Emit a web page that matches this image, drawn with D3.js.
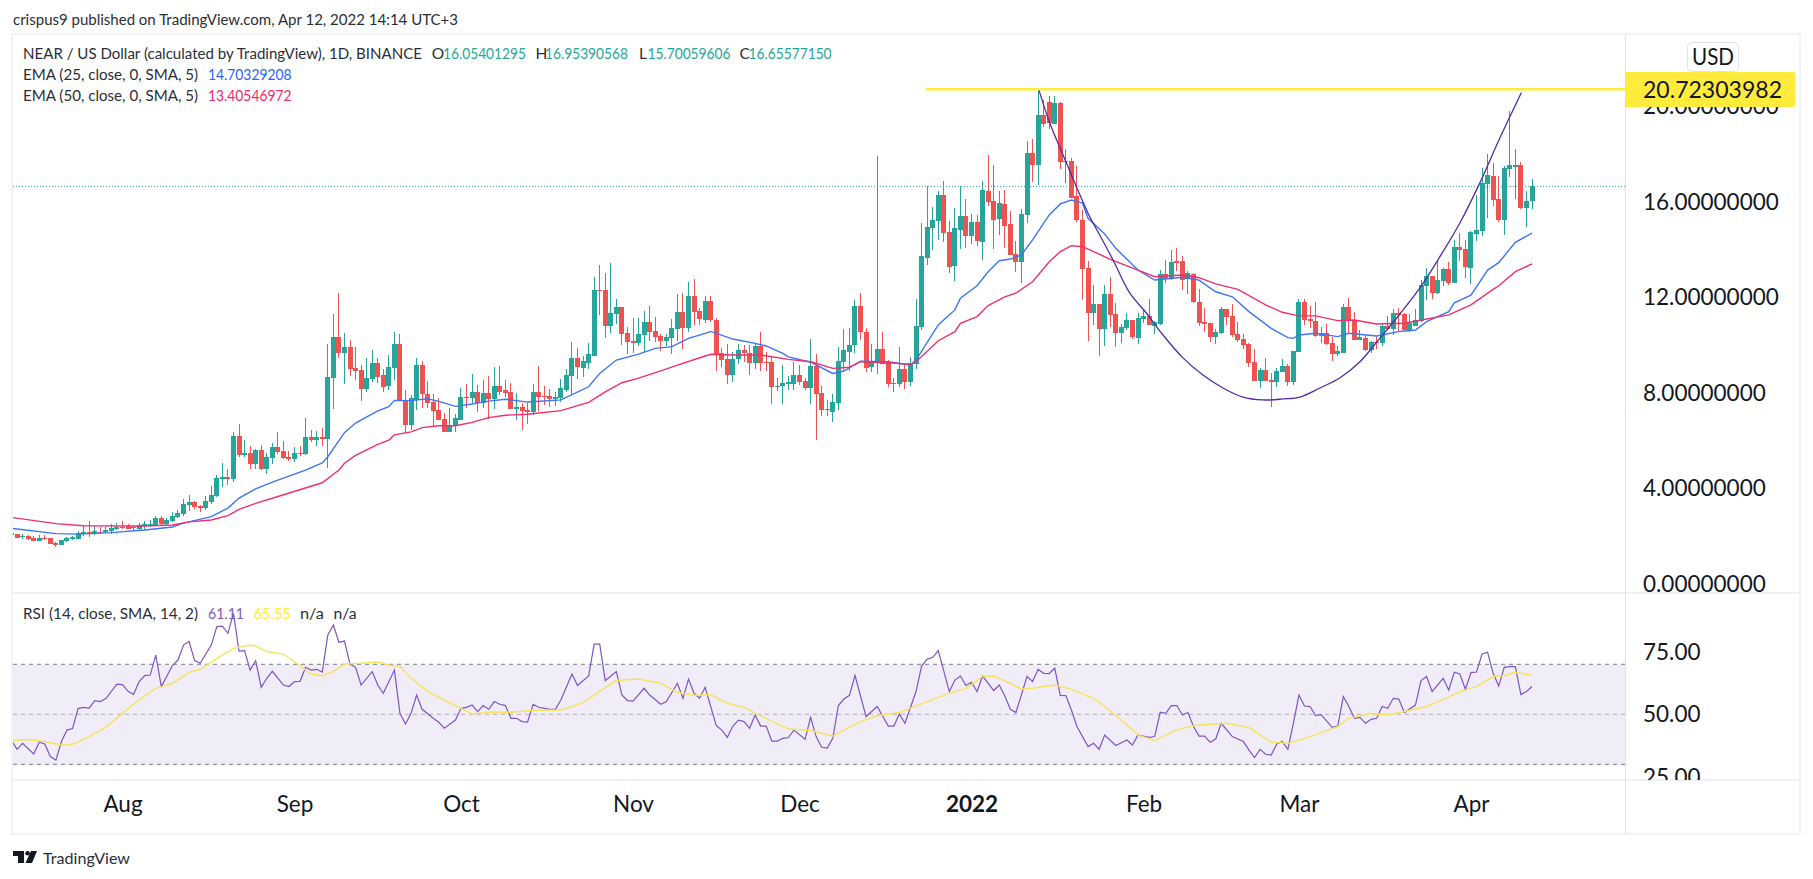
<!DOCTYPE html>
<html><head><meta charset="utf-8">
<script src="https://cdnjs.cloudflare.com/ajax/libs/d3/7.8.5/d3.min.js"></script>
<style>html,body{margin:0;padding:0;background:#fff;overflow:hidden}text{font-family:Lato,"Noto Sans",sans-serif}</style>
</head><body><svg id="c" width="1813" height="879"></svg>
<script>
const opens=[2.15,2.08,1.96,2.01,1.93,1.82,1.94,1.93,1.70,1.65,1.80,1.90,1.90,2.08,2.17,2.10,2.19,2.18,2.24,2.32,
2.40,2.42,2.37,2.32,2.43,2.47,2.49,2.75,2.51,2.64,2.81,2.93,3.31,3.44,3.27,3.18,3.44,3.70,4.40,4.47,
4.40,6.20,5.40,5.49,5.03,5.61,4.82,5.29,5.72,5.56,5.31,5.24,5.49,5.45,6.14,6.05,6.14,6.07,8.64,10.35,
9.68,9.93,9.05,8.96,8.17,8.59,9.26,8.75,8.29,9.05,10.05,7.71,6.66,7.71,9.17,7.96,7.62,7.29,6.91,6.37,
6.62,6.87,7.83,7.79,8.04,7.58,8.00,7.75,8.29,8.13,8.04,7.33,7.41,7.29,7.20,8.04,7.87,7.87,7.75,7.79,
8.13,8.71,9.47,9.05,9.26,9.55,12.31,12.31,10.81,11.31,11.60,10.51,10.18,10.09,10.43,10.97,10.60,10.39,10.18,10.30,
10.68,11.39,10.72,12.06,11.43,11.06,11.85,11.06,9.68,9.42,8.75,9.42,9.80,9.68,9.26,9.97,9.30,9.30,8.25,8.29,
8.38,8.39,8.75,8.50,8.21,9.13,8.00,7.33,7.21,7.60,9.30,9.72,10.01,11.65,10.56,9.09,9.26,9.84,9.26,8.38,
8.38,9.00,8.46,9.21,10.77,13.65,14.91,15.20,16.29,14.74,13.32,14.83,15.41,14.58,15.16,14.33,16.46,16.04,15.29,15.92,
15.08,13.82,13.49,15.46,18.05,17.55,19.64,20.20,19.27,20.15,17.68,17.72,16.25,15.25,13.24,11.35,11.73,10.68,12.15,11.31,
10.51,10.72,11.06,10.30,11.10,11.22,10.81,10.89,12.98,12.78,13.53,13.53,12.78,12.98,11.81,10.97,10.93,10.35,10.51,11.52,
11.22,10.47,10.26,10.05,9.30,8.50,8.96,8.54,8.46,8.88,9.13,8.46,9.72,11.81,11.10,11.02,10.39,10.51,10.10,9.63,
9.68,11.60,11.06,10.22,10.30,9.80,10.14,10.10,10.81,10.68,11.35,11.31,10.60,10.81,11.02,12.48,12.90,12.19,12.69,13.19,
12.61,14.12,14.03,13.24,14.66,14.79,16.75,17.09,16.12,15.25,17.38,17.47,17.55,15.75,16.05];
const closes=[2.05,1.94,2.00,1.89,1.82,1.93,1.90,1.69,1.65,1.83,1.93,1.98,2.12,2.18,2.08,2.22,2.17,2.25,2.35,2.39,
2.36,2.32,2.33,2.46,2.50,2.51,2.75,2.53,2.68,2.85,2.98,3.35,3.42,3.23,3.20,3.48,3.73,4.43,4.48,4.40,
6.20,5.42,5.47,5.03,5.61,4.80,5.32,5.72,5.54,5.29,5.25,5.49,5.46,6.16,6.05,6.16,6.07,8.67,10.35,9.68,
9.93,9.01,8.92,8.17,8.63,9.26,8.67,8.25,9.09,10.05,7.66,6.66,7.79,9.17,7.96,7.58,7.25,6.87,6.37,6.66,
6.95,7.83,7.79,8.04,7.58,8.00,7.75,8.29,8.04,8.00,7.33,7.41,7.25,7.20,8.04,7.83,7.83,7.75,7.83,8.21,
8.75,9.47,9.09,9.34,9.63,12.31,12.27,10.81,11.35,11.60,10.47,10.14,10.09,10.47,10.97,10.56,10.35,10.18,10.35,10.72,
11.39,10.72,12.06,11.39,11.10,11.85,11.06,9.63,9.38,8.75,9.42,9.80,9.68,9.26,9.97,9.26,9.26,8.25,8.29,8.42,
8.46,8.75,8.47,8.21,9.13,7.96,7.29,7.27,7.62,9.34,9.80,10.01,11.65,10.56,9.05,9.34,9.84,9.21,8.38,8.42,
9.00,8.46,9.26,10.81,13.74,14.95,15.25,16.29,14.70,13.28,14.91,15.41,14.58,15.16,14.37,16.50,15.99,15.25,15.96,14.99,
13.78,13.49,15.50,18.05,17.55,19.64,19.27,19.30,20.15,17.68,17.72,16.17,15.25,13.19,11.35,11.73,10.68,12.15,11.27,10.51,
10.76,11.06,10.35,11.14,11.22,10.85,10.97,12.98,12.78,13.49,13.45,12.73,13.03,11.81,10.93,10.89,10.35,10.56,11.52,11.18,
10.43,10.22,10.01,9.26,8.50,8.96,8.50,8.46,8.92,9.13,8.46,9.76,11.81,11.06,11.02,10.39,10.51,10.05,9.63,9.76,
11.60,11.02,10.22,10.35,9.80,10.14,10.10,10.81,10.68,11.35,11.27,10.64,10.93,11.06,12.52,12.90,12.19,12.73,13.19,12.61,
14.12,13.99,13.28,14.74,14.83,16.80,17.13,16.08,15.25,17.42,17.55,17.55,15.75,16.04,16.66];
const highs=[2.19,2.10,2.10,2.07,2.00,2.04,2.05,1.93,1.77,1.84,1.98,2.03,2.21,2.43,2.63,2.42,2.40,2.39,2.50,2.56,
2.63,2.51,2.43,2.54,2.64,2.67,2.84,2.84,2.78,3.00,3.09,3.56,3.73,3.49,3.31,3.69,4.11,4.55,5.07,4.82,
6.37,6.70,6.03,5.78,5.66,5.84,5.49,5.90,6.37,5.99,5.57,5.74,5.78,6.95,6.45,6.41,6.53,10.05,11.31,12.19,
10.51,10.22,9.93,9.17,9.47,9.80,9.47,9.01,9.59,10.56,10.47,8.13,7.92,9.47,9.34,8.50,7.96,7.79,7.16,7.37,
7.12,8.21,8.38,8.80,8.34,8.54,8.71,9.09,9.13,8.54,8.42,8.00,7.58,7.58,8.38,9.13,8.29,8.17,8.04,8.59,
9.00,10.14,9.88,9.55,10.09,12.86,13.36,13.03,13.44,11.94,11.60,10.76,11.14,11.14,11.43,11.64,11.18,10.47,10.47,11.10,
12.15,12.19,12.65,12.77,11.56,12.06,12.06,11.14,9.88,10.05,9.72,10.05,10.01,10.01,10.09,10.56,9.72,9.51,8.63,9.17,
8.71,9.30,9.17,8.63,10.26,9.63,8.29,7.71,7.96,9.93,10.68,10.72,11.90,12.19,10.72,10.05,17.93,10.56,9.38,8.63,
9.93,9.17,9.51,11.94,15.12,16.67,15.79,16.46,16.88,15.20,15.75,16.67,16.13,15.50,15.46,16.88,17.97,17.55,16.46,16.50,
15.62,14.37,15.71,18.55,18.65,20.72,20.27,20.44,20.44,20.19,18.22,17.84,17.51,15.67,13.53,12.52,11.73,12.52,12.86,11.77,
10.89,11.35,11.06,11.35,11.52,11.94,11.02,13.15,13.57,13.99,14.07,13.74,13.11,13.03,12.36,11.56,10.93,10.68,11.60,11.52,
11.73,10.97,10.47,10.10,9.84,9.05,9.47,8.84,9.05,9.43,9.22,9.76,11.94,11.94,11.64,11.81,10.77,10.89,10.35,9.97,
11.73,11.98,11.39,10.64,10.43,10.18,10.39,10.89,11.22,11.52,11.56,11.35,11.31,11.52,12.73,13.24,12.90,13.57,13.24,13.49,
14.41,14.70,14.41,14.79,16.29,17.42,18.01,17.63,17.09,17.51,19.81,18.22,17.67,16.46,16.96];
const lows=[1.98,1.93,1.87,1.86,1.80,1.79,1.84,1.68,1.57,1.63,1.77,1.86,1.89,2.03,1.97,2.07,2.10,2.15,2.10,2.28,
2.29,2.29,2.24,2.26,2.26,2.39,2.44,2.43,2.46,2.61,2.78,2.85,3.07,3.14,3.03,3.11,3.34,3.64,4.08,4.16,
4.29,5.33,5.32,4.83,4.83,4.78,4.61,5.04,5.46,5.24,5.17,5.13,5.38,5.40,5.96,5.78,5.78,4.86,7.33,9.47,
8.38,8.71,8.54,7.66,8.04,8.46,8.42,8.04,8.13,8.54,7.66,6.33,6.45,7.29,7.37,7.37,6.62,6.87,6.37,6.37,
6.37,6.87,7.37,7.58,7.20,7.37,6.91,7.33,7.92,7.83,7.33,6.87,6.45,6.70,7.08,7.25,7.50,7.41,7.46,7.62,
8.04,7.92,8.59,8.67,9.00,9.55,11.27,10.30,10.51,10.89,10.01,9.63,9.68,9.97,9.72,10.18,10.14,9.76,9.97,9.63,
10.18,9.84,10.56,10.85,10.85,10.93,10.97,8.92,9.09,8.38,8.46,9.21,9.30,8.75,9.00,8.92,8.92,7.54,8.08,7.54,
8.13,8.13,8.34,8.13,7.54,6.03,7.04,7.04,6.80,7.29,8.96,8.92,9.66,10.22,8.88,8.88,8.80,9.21,8.25,8.04,
8.25,8.17,8.29,9.00,10.64,13.36,13.99,14.41,14.32,13.03,12.69,14.03,14.07,14.24,14.16,13.57,15.83,14.03,14.62,14.07,
13.78,13.07,12.61,15.12,16.84,16.71,19.14,19.06,19.27,17.38,16.80,16.17,15.16,11.90,10.18,10.85,9.55,9.97,10.76,9.93,
10.10,10.64,10.26,10.05,10.93,10.85,10.47,10.85,12.61,12.73,13.11,12.32,12.15,11.77,10.81,10.56,10.14,10.05,10.47,10.85,
10.35,10.14,9.84,9.09,8.50,8.21,8.50,7.41,8.25,8.88,8.29,8.34,9.72,10.85,10.72,10.35,10.10,10.01,9.34,9.55,
9.68,10.47,10.22,10.22,9.76,9.68,9.84,9.97,10.68,10.43,10.60,10.60,10.56,10.81,10.97,11.90,11.94,12.15,12.48,12.52,
12.61,13.53,12.82,12.57,14.37,14.58,15.33,15.83,15.16,14.62,17.05,16.12,15.71,14.95,15.70];

const monthLabels=["Aug","Sep","Oct","Nov","Dec","2022","Feb","Mar","Apr"];
const monthDays=[20,51,81,112,142,173,204,232,263];
const priceTicks=[0,4,8,12,16,20];
const rsiTicks=[25,50,75];

const ema25Days=[0,8,12,18,24,29,31,36,39,41,44,47,53,56,57,60,62,66,68,69,72,75,77,80,83,86,89,93,99,104,106,109,113,116,119,122,125,126,130,134,136,139,140,144,148,150,153,158,162,163,167,170,171,174,176,178,180,182,184,187,189,191,193,194,197,199,203,206,211,214,217,220,223,227,230,231,232,235,239,241,246,250,253,255,259,260,263,266,268,271,274];
const ema25=[2.33,2.11,2.09,2.15,2.26,2.39,2.55,2.82,3.18,3.60,3.98,4.27,4.77,5.07,5.33,6.34,6.74,7.25,7.43,7.69,7.68,7.76,7.65,7.44,7.54,7.66,7.74,7.62,7.71,8.26,8.82,9.38,9.63,9.87,9.94,10.29,10.50,10.58,10.26,10.08,9.97,9.66,9.51,9.29,8.82,8.92,9.33,9.31,9.17,9.38,10.85,11.48,11.97,12.49,13.08,13.54,13.61,13.78,14.41,15.46,15.92,16.08,15.95,15.32,14.66,14.06,13.15,12.73,12.85,12.73,12.24,12.03,11.41,10.71,10.32,10.29,10.43,10.50,10.36,10.50,10.39,10.57,10.64,10.99,11.41,11.78,12.10,13.15,13.46,14.31,14.70];
const ema50Days=[0,8,13,24,29,32,36,39,41,44,47,56,59,60,62,66,68,69,72,74,77,80,83,86,89,93,99,104,107,110,113,117,120,125,126,130,135,140,144,148,151,153,158,162,163,167,170,171,174,176,179,181,184,187,189,191,193,196,198,203,206,211,214,217,221,226,229,232,235,239,242,246,251,259,263,267,268,271,274];
const ema50=[2.79,2.53,2.44,2.43,2.47,2.60,2.68,2.86,3.13,3.38,3.59,4.24,4.77,5.06,5.39,5.85,6.03,6.25,6.37,6.55,6.63,6.63,6.77,6.97,7.07,7.11,7.26,7.61,8.05,8.43,8.62,8.93,9.17,9.55,9.62,9.59,9.59,9.41,9.31,9.03,9.08,9.31,9.27,9.20,9.31,10.19,10.57,10.92,11.20,11.66,12.03,12.18,12.66,13.50,13.92,14.17,14.13,13.82,13.60,13.15,12.87,12.94,12.83,12.57,12.34,11.69,11.38,11.23,11.23,11.03,11.06,10.89,10.92,11.27,11.69,12.34,12.49,13.08,13.41];

const cupDays=[185.1,187.1,189.5,191.9,194.3,196.1,198.5,201.5,204.5,207.5,211.1,214.7,218.3,221.9,225.5,229.1,232.2,235.8,239.4,243,246.6,250.2,253.8,257.4,261,264.6,268.2,272.1];
const cupValues=[20.73,19.31,17.97,16.64,15.38,14.62,13.57,12.19,11.35,10.43,9.47,8.75,8.21,7.83,7.71,7.75,7.83,8.21,8.64,9.31,10.30,11.31,12.40,13.71,15.12,16.80,18.68,20.59];

const rsiDays=[0,1,2,4,5,6,7,8,9,10,11,12,13,14,15,16,17,19,20,21,22,23,24,25,26,27,29,30,31,32,33,34,36,37,38,39,40,41,42,43,44,45,46,47,49,50,51,52,53,54,55,56,57,58,59,60,61,62,63,65,66,67,69,70,71,72,73,74,76,77,78,80,81,82,83,84,85,86,87,88,89,90,91,92,93,94,95,96,97,98,99,101,102,104,105,106,107,109,110,111,112,114,115,117,118,120,121,122,123,124,125,127,128,129,130,131,132,133,134,135,136,137,138,139,140,141,143,144,145,146,147,148,149,150,151,152,154,156,158,159,160,161,163,164,165,166,167,169,170,171,172,173,174,175,177,178,179,180,181,183,184,185,186,187,188,189,190,191,192,194,195,196,197,199,201,202,203,205,206,207,208,209,210,211,212,213,214,215,216,217,218,220,222,223,224,225,226,227,228,229,230,231,232,233,234,235,236,238,239,240,241,242,243,244,245,246,247,248,249,250,251,253,254,255,256,258,259,260,261,262,263,264,265,266,267,268,269,270,271,272,273,274];
const rsiValues=[39.5,36,38.4,34.1,38.8,38.1,33.1,31.7,39.1,43.7,44.3,52.3,52.8,52.5,55.5,55.1,56.3,62.1,61.9,59.2,58,63.1,65.5,65.7,73.7,61.1,69.5,71.7,77.7,79.1,71.5,70.4,77.7,85.1,85.3,82.4,90.4,75.3,75.5,67.7,71.5,60.8,64.4,67.2,61.7,61.1,63.1,63.2,68.8,67.7,68,66.9,81.7,85.7,78.8,79.3,70.1,68.8,61.7,67.1,61.7,58.4,67.7,50.4,46.1,50.4,57.7,52,48.4,46.8,44.4,47.7,52.4,52.8,53.7,51.1,53.5,52,55.1,54,53.5,48.4,48.4,47.1,46.9,54,52.8,52.4,52,52,55.7,66.1,61.5,65.3,78.1,78.1,63.5,67.1,57.7,55.5,55.3,60.4,57.7,54,55.1,62.4,56.4,64.1,58.4,56.4,60.8,45.5,43.7,40.8,45.3,47.7,47.1,44.4,49.7,45.3,45.3,39.3,39.3,40.4,40.7,43.7,40,48.8,41.1,36.8,36.5,40.4,53.5,56.1,57.6,65.6,49.1,53.1,45.3,45.3,50.1,46.4,59.1,69.3,72.1,72.7,75.5,59.1,63.7,65.3,61.5,62.8,59.1,65.3,59.5,61.7,57.3,52,50.7,65.1,63.1,68,66.4,66.3,68.4,57.6,57.5,51.7,45.1,37.1,38.4,36,41.7,37.5,39.7,37.7,41.7,40.8,41.1,50.8,50.4,53.5,53.5,49.7,50.7,45.1,41.3,41.3,38.8,40.1,46.4,41.1,39.1,35.7,32.7,36,34,33.7,38.1,39.1,36,46.4,57.7,53.3,53.1,49.5,49.9,44.8,45.3,57.1,53.1,48.4,48.8,46.4,48,48.4,53.1,52.4,56.4,56.1,50.7,53.7,63.5,65.1,59.1,64.4,59.7,66.8,66.1,60,66.7,66.9,74.1,74.8,66.4,61.3,68.8,69.1,69.1,57.9,59.1,61.11];
const smaDays=[0,3,6,9,11,14,17,20,23,26,29,32,34,37,40,43,44,46,49,51,53,54,56,58,60,63,66,68,70,72,75,78,81,83,86,90,94,99,103,107,109,113,117,120,123,126,129,132,135,140,144,148,153,156,160,165,169,172,175,177,179,182,184,188,191,195,197,201,203,206,210,213,219,223,227,230,234,239,241,245,248,251,255,259,261,264,267,269,271,274];
const smaValues=[39.5,39.9,39.1,37.6,38,41.1,44.8,50.4,55.7,60.4,62.4,66.8,68,72.4,76.4,77.7,77.3,75.1,74.1,71,67.7,66.1,65.4,67.1,70.1,70.4,70.9,69.7,69.1,64.4,59.1,55.7,52.4,50.1,50.8,50.8,51.6,51.7,54.7,60.7,63.5,64.1,62.4,58.7,57.6,57.9,54.4,52.8,49.4,44.1,43.5,41.3,47.1,49.4,50.7,55.1,58.4,60.4,65.1,65.3,63.4,60.1,60.4,61.7,60,56.4,53.1,45.8,41.8,39.5,43.8,45.5,46.4,44.7,38.8,38.4,41.1,45.1,48.4,50.3,49.7,51.1,53.1,56.9,59.1,61.1,65.1,65.5,66.8,65.55];

const resistance=20.72303982, lastPrice=16.65577150, resistanceStartDay=164.8;
const legendOHLC=[["O","16.05401295"],["H","16.95390568"],["L","15.70059606"],["C","16.65577150"]];

const svg=d3.select("#c");
const L=13,R=1625,paneTop=35,paneBot=593,rsiBot=780,frameBot=834,frameR=1800;
const x=d3.scaleLinear().domain([0,274]).range([11.5,1532]);
const y=d3.scaleLinear().domain([0,20]).range([584,106.5]);
const r=d3.scaleLinear().domain([25,75]).range([776.8,651.8]);
const INK="#131722",GREEN="#26a69a",RED="#ef5350";

const defs=svg.append("defs");
defs.append("clipPath").attr("id","pc").append("rect").attr("x",L).attr("y",paneTop).attr("width",R-L).attr("height",paneBot-paneTop);
defs.append("clipPath").attr("id","rc").append("rect").attr("x",L).attr("y",paneBot).attr("width",R-L).attr("height",rsiBot-paneBot);
defs.append("clipPath").attr("id","pa").append("rect").attr("x",R).attr("y",paneTop).attr("width",frameR-R).attr("height",paneBot-paneTop);
defs.append("clipPath").attr("id","ra").append("rect").attr("x",R).attr("y",paneBot).attr("width",frameR-R).attr("height",rsiBot-paneBot);

function txt(g,xx,yy,s,o={}){
  const t=g.append("text").attr("x",xx).attr("y",yy).attr("dy","0.35em").attr("font-size",o.size||15.5)
    .attr("fill",o.fill||"#2a2e39").attr("text-anchor",o.anchor||"start").text(s);
  if(o.w) t.attr("textLength",o.w).attr("lengthAdjust","spacingAndGlyphs");
  if(o.weight) t.attr("font-weight",o.weight);
  return t;
}

// RSI band
const rsiG=svg.append("g").attr("clip-path","url(#rc)");
rsiG.append("rect").attr("x",L).attr("width",R-L).attr("y",r(70)).attr("height",r(30)-r(70)).attr("fill","#7e57c2").attr("fill-opacity",0.115);
[[70,"#787b86",1],[50,"#787b86",0.55],[30,"#787b86",1]].forEach(([v,c,o])=>{
  rsiG.append("line").attr("x1",L).attr("x2",R).attr("y1",r(v)).attr("y2",r(v)).attr("stroke",c).attr("stroke-opacity",o).attr("stroke-width",1).attr("stroke-dasharray","4 4");
});
const lineR=(ds,vs)=>d3.line().x((d,i)=>x(ds[i])).y(d=>r(d))(vs);
rsiG.append("path").attr("d",lineR(rsiDays,rsiValues)).attr("fill","none").attr("stroke","#7e57c2").attr("stroke-width",1.2);
rsiG.append("path").attr("d",lineR(smaDays,smaValues)).attr("fill","none").attr("stroke","#f7e35a").attr("stroke-width",1.4);

// Price pane
const pane=svg.append("g").attr("clip-path","url(#pc)");
pane.append("line").attr("x1",L).attr("x2",R).attr("y1",y(lastPrice)).attr("y2",y(lastPrice)).attr("stroke",GREEN).attr("stroke-width",1).attr("stroke-dasharray","1 2");
const candles=pane.append("g").selectAll("g").data(opens.map((o,i)=>({i,o,h:highs[i],l:lows[i],c:closes[i]}))).join("g")
  .attr("fill",d=>d.c>=d.o?GREEN:RED).attr("stroke",d=>d.c>=d.o?GREEN:RED).attr("shape-rendering","crispEdges");
candles.append("line").attr("x1",d=>Math.floor(x(d.i))+0.5).attr("x2",d=>Math.floor(x(d.i))+0.5).attr("y1",d=>y(d.h)).attr("y2",d=>y(d.l)).attr("stroke-width",1);
candles.append("rect").attr("x",d=>Math.floor(x(d.i))-2).attr("width",5).attr("y",d=>y(Math.max(d.o,d.c))).attr("height",d=>Math.max(1,y(Math.min(d.o,d.c))-y(Math.max(d.o,d.c)))).attr("stroke","none");
const lineP=(ds,vs,c)=>d3.line().x((d,i)=>x(ds[i])).y(d=>y(d)).curve(c||d3.curveLinear)(vs);
pane.append("path").attr("d",lineP(ema25Days,ema25)).attr("fill","none").attr("stroke","#3f74f8").attr("stroke-width",1.4);
pane.append("path").attr("d",lineP(ema50Days,ema50)).attr("fill","none").attr("stroke","#ef2f70").attr("stroke-width",1.4);
pane.append("path").attr("d",lineP(cupDays,cupValues,d3.curveCatmullRom)).attr("fill","none").attr("stroke","#512da8").attr("stroke-width",1.3);
pane.append("line").attr("x1",x(resistanceStartDay)).attr("x2",R).attr("y1",y(resistance)).attr("y2",y(resistance)).attr("stroke","#ffeb3b").attr("stroke-width",2.4);

// Frame
const frame=svg.append("g").attr("fill","none");
frame.append("path").attr("d",`M${L-1} 34H${frameR}V${frameBot}H${L-1}Z`).attr("stroke","#f0f3fa").attr("stroke-width",2);
frame.append("line").attr("x1",L).attr("x2",frameR).attr("y1",paneBot).attr("y2",paneBot).attr("stroke","#e0e3eb").attr("stroke-width",1);
frame.append("line").attr("x1",L).attr("x2",frameR).attr("y1",rsiBot).attr("y2",rsiBot).attr("stroke","#e0e3eb").attr("stroke-width",1);
frame.append("line").attr("x1",R+0.5).attr("x2",R+0.5).attr("y1",35).attr("y2",frameBot).attr("stroke","#e0e3eb").attr("stroke-width",1);

// Axes
const pa=svg.append("g").attr("clip-path","url(#pa)").append("g").attr("transform",`translate(${R},0)`)
  .call(d3.axisRight(y).tickValues(priceTicks).tickSize(0).tickPadding(18).tickFormat(d3.format(".8f")));
const ra=svg.append("g").attr("clip-path","url(#ra)").append("g").attr("transform",`translate(${R},0)`)
  .call(d3.axisRight(r).tickValues(rsiTicks).tickSize(0).tickPadding(18).tickFormat(d3.format(".2f")));
const ta=svg.append("g").attr("transform",`translate(0,${rsiBot+16})`)
  .call(d3.axisBottom(x).tickValues(monthDays).tickSize(0).tickPadding(0).tickFormat((d,i)=>monthLabels[i]));
[pa,ra,ta].forEach(g=>{g.select(".domain").remove();g.selectAll("text").attr("font-family",'Lato,"Noto Sans",sans-serif').attr("font-size",22.5).attr("fill",INK);});
ta.selectAll("text").attr("font-weight",(d,i)=>monthLabels[i]==="2022"?700:400);

// Yellow price tag and USD
svg.append("path").attr("d",`M${R} 72H1793a2 2 0 0 1 2 2V105a2 2 0 0 1 -2 2H${R}Z`).attr("fill","#ffeb3b");
txt(svg,1643,y(resistance)+0.5,d3.format(".8f")(resistance),{size:22.5,fill:INK,w:139});
svg.append("rect").attr("x",1687.5).attr("y",42.5).attr("width",51).attr("height",29).attr("rx",4).attr("fill","#fff").attr("stroke","#e0e3eb");
txt(svg,1713,57,"USD",{size:22.5,fill:INK,anchor:"middle",w:42});

// Header and legends
txt(svg,13,20,"crispus9 published on TradingView.com, Apr 12, 2022 14:14 UTC+3",{w:445});
txt(svg,23,53.5,"NEAR / US Dollar (calculated by TradingView), 1D, BINANCE",{w:399});
const ohlcX=[[431.7,443],[535.6,545],[639,647.5],[739.4,748.6]];
legendOHLC.forEach(([k,v],i)=>{
  txt(svg,ohlcX[i][0],53.5,k,{});
  txt(svg,ohlcX[i][1],53.5,v,{fill:GREEN,w:83});
});
txt(svg,23,75,"EMA (25, close, 0, SMA, 5)",{w:175});
txt(svg,208,75,"14.70329208",{fill:"#2962ff",w:83.5});
txt(svg,23,96,"EMA (50, close, 0, SMA, 5)",{w:175});
txt(svg,208,96,"13.40546972",{fill:"#f2296e",w:83.5});
txt(svg,23,614,"RSI (14, close, SMA, 14, 2)",{w:175});
txt(svg,208,614,"61.11",{fill:"#7e57c2",w:36});
txt(svg,253.7,614,"65.55",{fill:"#ffeb3b",w:37});
txt(svg,300,614,"n/a",{w:24});
txt(svg,333.5,614,"n/a",{w:23});

// Logo
svg.append("path").attr("d","M13 851H24V863H18V856H13ZM31 851H37L32 863H25.5Z").attr("fill",INK);
svg.append("circle").attr("cx",27.6).attr("cy",853.3).attr("r",2.3).attr("fill",INK);
txt(svg,43,858,"TradingView",{w:87,size:16,fill:"#2a2e39"});
</script></body></html>
